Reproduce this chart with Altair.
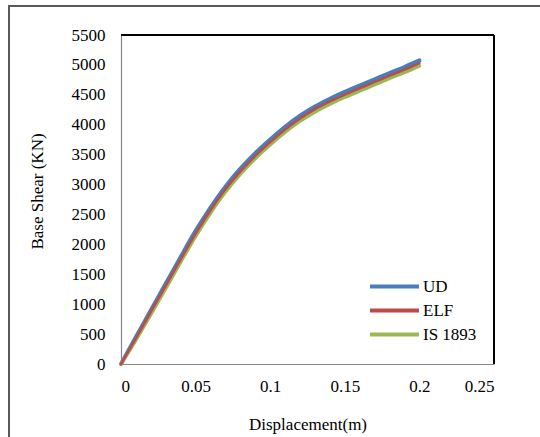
import altair as alt
import pandas as pd

disp = [0.0, 0.01, 0.02, 0.03, 0.04, 0.05, 0.06, 0.07, 0.08, 0.09, 0.10,
        0.11, 0.12, 0.13, 0.14, 0.15, 0.16, 0.17, 0.18, 0.19, 0.20]
ud = [0, 450, 900, 1345, 1790, 2225, 2615, 2965, 3265, 3525, 3755,
      3965, 4150, 4305, 4435, 4550, 4655, 4760, 4865, 4965, 5075]
elf = [0, 430, 870, 1310, 1750, 2180, 2570, 2920, 3220, 3480, 3710,
       3920, 4105, 4260, 4390, 4505, 4610, 4715, 4820, 4920, 5030]
is1893 = [0, 400, 830, 1265, 1705, 2135, 2525, 2875, 3175, 3435, 3665,
          3875, 4060, 4215, 4345, 4460, 4565, 4670, 4775, 4875, 4985]

series_names = ["UD", "ELF", "IS 1893"]
series_colors = ["#4A7EBB", "#BE4B48", "#98B954"]
x_ticks = [0, 0.05, 0.1, 0.15, 0.2, 0.25]
y_ticks = list(range(0, 5501, 500))

rows = []
for name, vals in zip(series_names, [ud, elf, is1893]):
    for d, v in zip(disp, vals):
        rows.append({"disp": d, "shear": v, "series": name})
df = pd.DataFrame(rows)

FONT = "Liberation Serif"
W, H = 373, 329

xenc = alt.X("disp:Q",
             scale=alt.Scale(domain=[0, 0.25], nice=False),
             axis=alt.Axis(values=x_ticks, format="~g", title="Displacement(m)",
                           grid=False, ticks=False, tickSize=0, labelPadding=14,
                           domainColor="#868686", domainWidth=1.2,
                           titleY=60, titleBaseline="middle"))
yenc = alt.Y("shear:Q",
             scale=alt.Scale(domain=[0, 5500], nice=False),
             axis=alt.Axis(values=y_ticks, format="d", title="Base Shear (KN)",
                           grid=False, ticks=False, tickSize=0, labelPadding=16,
                           domainColor="#868686", domainWidth=1.2,
                           titleX=-84, titleY=156, titleBaseline="middle"))

color = alt.Color("series:N",
                  scale=alt.Scale(domain=series_names, range=series_colors),
                  legend=alt.Legend(title=None, orient="none", legendX=265, legendY=243,
                                    symbolType="M-4,0H4", symbolSize=150,
                                    symbolStrokeWidth=4, labelOffset=20,
                                    rowPadding=6, padding=0,
                                    labelFont=FONT, labelFontSize=17,
                                    labelColor="black"))

def line(name, width):
    return alt.Chart(df).transform_filter(alt.datum.series == name).mark_line(
        strokeWidth=width, interpolate="monotone", strokeCap="round"
    ).encode(x=xenc, y=yenc, color=color)

lines = alt.layer(line("UD", 4), line("IS 1893", 3.5), line("ELF", 2.5))

border_top = alt.Chart(df).mark_rule(color="black", strokeWidth=1.5).encode(
    x=alt.value(0), x2=alt.value(W), y=alt.value(0))
border_right = alt.Chart(df).mark_rule(color="black", strokeWidth=1.5).encode(
    x=alt.value(W), y=alt.value(0), y2=alt.value(H))
frame = alt.Chart(df).mark_rect(fill=None, filled=False, stroke="#5a5a5a", strokeWidth=1.2).encode(
    x=alt.value(-112), y=alt.value(-29), x2=alt.value(W + 60), y2=alt.value(H + 90))

chart = alt.layer(frame, lines, border_top, border_right).properties(
    width=W, height=H,
    background="white",
    autosize=alt.AutoSizeParams(type="none"),
    padding={"left": 121, "top": 35, "right": 46, "bottom": 73},
).configure_view(stroke=None).configure_axis(
    labelFont=FONT, labelFontSize=17, labelColor="black",
    titleFont=FONT, titleFontSize=17, titleFontWeight="normal", titleColor="black",
)

chart.save("out.html", embed_options={"renderer": "svg", "actions": False})
